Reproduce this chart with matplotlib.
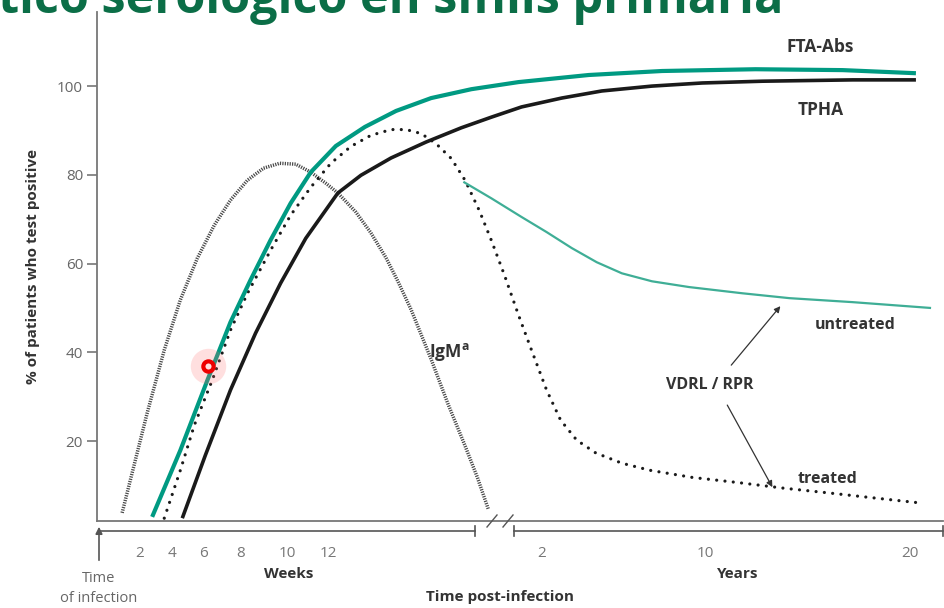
import matplotlib
matplotlib.use("Agg")
import matplotlib.pyplot as plt
from matplotlib.lines import Line2D

plt.rcParams['font.family'] = ['Open Sans', 'DejaVu Sans']

# x is the position along the drawn time axis (0 = time of infection, 100 = right edge)
fta_x = [6.52, 9.85, 13.05, 15.78, 18.15, 20.52, 22.89, 25.27, 28.23, 31.67, 35.35,
         39.5, 44.25, 49.82, 58.13, 66.79, 77.82, 88.14, 96.8]
fta_y = [2.9, 17.9, 33.7, 46.8, 56.3, 65.3, 73.6, 80.6, 86.5, 90.8, 94.4,
         97.3, 99.3, 100.9, 102.5, 103.4, 103.8, 103.6, 102.9]

tpha_x = [10.08, 12.81, 15.78, 18.74, 21.71, 24.68, 28.47, 31.2, 34.76, 38.91, 43.06,
          46.62, 50.18, 54.92, 59.67, 65.6, 71.53, 78.65, 89.32, 96.8]
tpha_y = [2.6, 16.8, 31.5, 44.3, 55.6, 65.7, 75.9, 79.9, 83.8, 87.4, 90.6,
          93.0, 95.3, 97.3, 98.9, 100.0, 100.7, 101.1, 101.4, 101.4]

vdrl_x = [7.95, 9.85, 11.51, 13.64, 15.78, 17.79, 20.52, 22.89, 25.27, 27.64, 30.01,
          32.38, 34.76, 36.54, 38.32, 40.09, 41.87, 43.53, 45.2, 46.62, 48.16, 49.82,
          51.36, 53.14, 54.8, 56.7, 58.96, 62.04, 65.36, 70.34, 75.92, 81.02, 86.48,
          91.7, 97.51]
vdrl_y = [2.6, 13.4, 23.6, 33.8, 45.0, 53.3, 63.0, 70.9, 77.2, 82.6, 86.4,
          88.9, 90.2, 90.2, 89.3, 87.0, 83.7, 78.7, 71.9, 65.2, 57.4, 48.4,
          40.5, 31.5, 24.7, 20.2, 17.3, 15.0, 13.4, 11.8, 10.6, 9.4, 8.3,
          7.2, 6.0]

untreated_x = [43.42, 46.62, 50.18, 53.14, 56.11, 59.07, 62.04, 65.6, 69.99, 76.28,
               81.85, 89.32, 98.46]
untreated_y = [78.3, 74.7, 70.5, 67.1, 63.5, 60.3, 57.8, 56.0, 54.7, 53.3,
               52.2, 51.3, 50.0]

igm_x = [2.97, 4.39, 5.93, 7.95, 9.85, 11.86, 13.88, 15.78, 17.79, 19.69, 21.59, 23.49,
         25.27, 27.05, 28.47, 30.6, 32.38, 34.16, 35.59, 37.13, 39.5, 41.52, 43.53,
         44.96, 46.26]
igm_y = [3.8, 14.6, 26.3, 40.5, 51.8, 61.2, 68.7, 74.3, 78.8, 81.5, 82.6, 82.4,
         80.6, 78.1, 75.9, 71.6, 66.9, 61.3, 55.9, 49.6, 38.4, 28.2, 18.8,
         11.8, 4.6]

pointer_x, pointer_y = 13.17, 36.9

y_ticks = [20, 40, 60, 80, 100]
week_pos = [4.98, 8.90, 12.57, 16.96, 22.54, 27.40]
week_labels = ["2", "4", "6", "8", "10", "12"]
year_pos = [52.55, 71.89, 96.09]
year_labels = ["2", "10", "20"]

TEAL = "#009a82"
TEAL_LIGHT = "#3fae96"
GREY = "#666666"
DARK = "#333333"

W, H = 944, 608
fig = plt.figure(figsize=(W / 100, H / 100), dpi=100)


def fx(px):
    return px / W


def fy(py):
    return 1 - py / H


ax = fig.add_axes([fx(97), fy(521), fx(943) - fx(97), fy(12) - fy(521)])
ax.set_xlim(0, 100)
ax.set_ylim(1.97, 116.7)

ax.plot(igm_x, igm_y, color="#484848", lw=2.5, linestyle=(0, (0.35, 0.35)))
ax.plot(vdrl_x, vdrl_y, color="#1a1a1a", lw=2.3, linestyle=(0, (0.01, 2.6)),
        dash_capstyle="round")
ax.plot(untreated_x, untreated_y, color=TEAL_LIGHT, lw=1.6)
ax.plot(tpha_x, tpha_y, color="#1a1a1a", lw=2.6, solid_capstyle="butt")
ax.plot(fta_x, fta_y, color=TEAL, lw=3.0, solid_capstyle="butt")

# red laser pointer from the recording
ax.scatter([pointer_x], [pointer_y], s=650, color="#ff7070", alpha=0.22, lw=0, zorder=5)
ax.scatter([pointer_x], [pointer_y], s=55, facecolor="#ffe0e0", edgecolor="#ee0000",
           lw=3, zorder=6)

for s in ["top", "right"]:
    ax.spines[s].set_visible(False)
ax.spines["left"].set_color("#777777")
ax.spines["left"].set_linewidth(1.3)
ax.spines["bottom"].set_color("#777777")
ax.spines["bottom"].set_linewidth(1.3)

ax.set_yticks(y_ticks)
ax.tick_params(axis="y", length=7, width=1.2, color="#777777", labelcolor=GREY,
               labelsize=11, pad=3)
ax.set_xticks(week_pos + year_pos)
ax.set_xticklabels(week_labels + year_labels)
ax.tick_params(axis="x", length=0, pad=18, labelcolor="#777777", labelsize=11)

ax.set_ylabel("% of patients who test positive", fontsize=11, fontweight="bold",
              color=DARK, labelpad=12)

bold = dict(fontweight="bold", color=DARK, fontsize=11.5, ha="center", va="center")
ax.text(85.5, 108.8, "FTA-Abs", **dict(bold, fontsize=12.5))
ax.text(85.5, 94.6, "TPHA", **dict(bold, fontsize=12.5))
ax.text(41.6, 40.0, r"IgM$^{\mathregular{a}}$", **dict(bold, fontsize=12.5))
ax.text(89.56, 46.1, "untreated", **bold)
ax.text(72.48, 32.6, "VDRL / RPR", **bold)
ax.text(86.36, 11.4, "treated", **bold)

arrow = dict(arrowstyle="-|>", color=DARK, lw=0.9, mutation_scale=9,
             shrinkA=0, shrinkB=0)
ax.annotate("", xy=(80.78, 50.4), xytext=(74.97, 37.1), arrowprops=arrow)
ax.annotate("", xy=(79.83, 9.6), xytext=(74.5, 28.1), arrowprops=arrow)

# time axis drawn under the plot box, with the weeks / years break
axis_col = "#555555"


def seg(xs, ys, lw=1.2):
    fig.add_artist(Line2D([fx(x) for x in xs], [fy(y) for y in ys],
                          color=axis_col, lw=lw))


seg([99, 475], [531, 531])
seg([475, 475], [526, 536])
seg([514, 943], [531, 531])
seg([514, 514], [526, 536])
seg([943, 943], [526, 536])
seg([487, 497], [527, 515], lw=1.0)
seg([503, 513], [527, 515], lw=1.0)
fig.add_artist(matplotlib.patches.FancyArrowPatch(
    (fx(99), fy(563)), (fx(99), fy(524)), transform=fig.transFigure,
    arrowstyle="-|>", mutation_scale=10, color=axis_col, lw=1.2))

fig.text(fx(289), fy(574), "Weeks", fontsize=11, fontweight="bold", color=DARK,
         ha="center", va="center")
fig.text(fx(738), fy(574), "Years", fontsize=11, fontweight="bold", color=DARK,
         ha="center", va="center")
fig.text(fx(500), fy(597), "Time post-infection", fontsize=11, fontweight="bold",
         color=DARK, ha="center", va="center")
fig.text(fx(99), fy(579), "Time", fontsize=10.5, color=GREY, ha="center", va="center")
fig.text(fx(99), fy(599), "of infection", fontsize=10.5, color=GREY, ha="center",
         va="center")

# slide title, cut off at the top of the screenshot (as in the source)
fig.text(fx(-2), fy(13), "tico serológico en sífilis primaria", fontsize=35,
         fontweight="bold", color="#0b6e47", ha="left", va="baseline")

fig.savefig("out.png", dpi=100)
